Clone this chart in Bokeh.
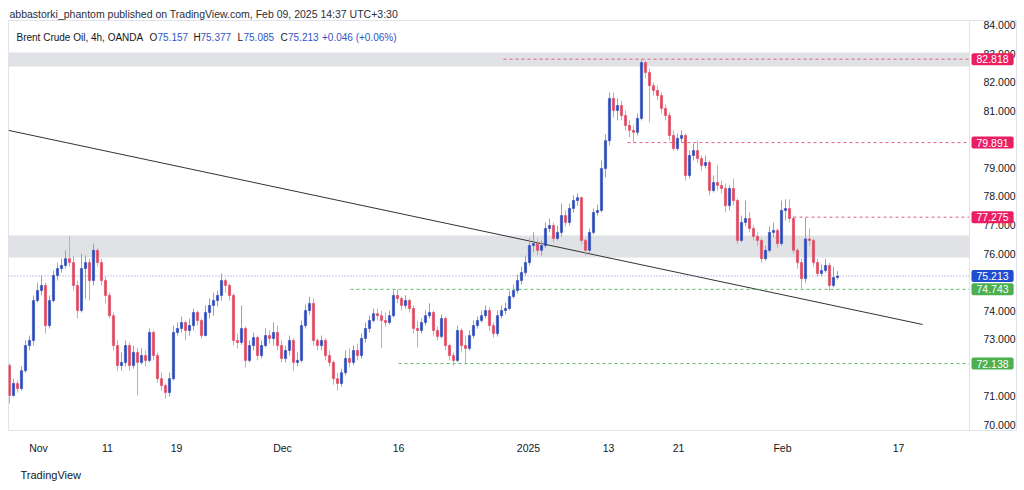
from bokeh.plotting import figure
from bokeh.models import (Range1d, FixedTicker, PrintfTickFormatter, BoxAnnotation,
                          Label, Title, Span, ColumnDataSource)
from bokeh.embed import file_html
from bokeh.resources import INLINE

# ---------------- data (Brent Crude Oil, 4h bars) ----------------
opens = [
    72.07, 71.02, 71.44, 71.26, 71.89, 72.77, 72.95, 74.35, 74.70, 74.88,
    73.47, 74.35, 75.23, 75.47, 75.58, 75.82, 75.68, 74.88, 74.00, 75.47,
    75.68, 75.05, 76.11, 75.68, 75.05, 74.53, 73.82, 72.77, 72.07, 72.18,
    72.77, 72.07, 72.53, 72.18, 72.42, 72.25, 73.23, 72.42, 71.61, 71.37,
    71.12, 71.61, 73.23, 73.37, 73.58, 73.30, 73.47, 73.93, 73.65, 73.12,
    73.93, 74.18, 74.35, 74.53, 75.05, 74.88, 74.53, 72.95, 72.88, 73.37,
    72.25, 72.77, 73.05, 72.42, 72.77, 73.12, 73.02, 73.23, 72.77, 72.32,
    72.60, 72.95, 72.18, 72.25, 73.47, 74.00, 74.25, 72.95, 72.77, 72.95,
    72.42, 72.18, 71.61, 71.44, 71.82, 72.32, 72.18, 72.60, 72.42, 73.02,
    73.37, 73.65, 73.89, 73.82, 73.65, 73.58, 73.82, 74.53, 74.42, 74.18,
    74.35, 74.07, 73.37, 73.30, 73.58, 73.82, 73.93, 73.30, 73.09, 73.72,
    72.77, 72.42, 72.25, 73.30, 72.77, 72.67, 73.12, 73.47, 73.65, 73.82,
    74.00, 73.47, 73.19, 73.82, 74.00, 74.07, 74.49, 74.70, 75.05, 75.33,
    75.68, 76.28, 76.35, 76.11, 76.28, 76.88, 76.98, 76.53, 76.74, 77.33,
    77.09, 77.58, 77.86, 77.96, 76.46, 76.11, 76.74, 77.44, 77.51, 78.98,
    79.96, 81.44, 81.02, 81.19, 80.84, 80.49, 80.32, 80.25, 80.74, 82.70,
    82.35, 81.89, 81.72, 81.54, 81.09, 80.84, 80.14, 79.68, 80.04, 80.14,
    78.74, 79.44, 79.61, 79.33, 79.09, 79.19, 78.21, 78.49, 78.39, 78.28,
    77.68, 78.28, 77.86, 76.46, 77.09, 77.23, 76.88, 76.60, 76.46, 75.82,
    76.11, 76.74, 76.81, 76.35, 77.51, 77.58, 77.23, 76.11, 75.68, 75.12,
    76.51, 76.46, 75.68, 75.30, 75.40, 75.58, 74.88, 75.16,
]
highs = [
    72.14, 71.61, 71.54, 72.04, 72.95, 73.12, 74.53, 74.98, 75.23, 74.98,
    74.53, 75.40, 75.68, 75.82, 76.11, 76.60, 75.93, 75.05, 76.00, 75.93,
    75.82, 76.35, 76.18, 75.82, 75.19, 74.63, 73.93, 72.95, 72.53, 72.95,
    72.88, 72.77, 72.67, 72.67, 72.60, 73.37, 73.30, 72.53, 71.82, 71.44,
    71.82, 73.47, 73.58, 73.79, 73.65, 73.72, 74.07, 74.00, 73.72, 74.18,
    74.42, 74.63, 74.70, 75.30, 75.12, 74.95, 74.60, 73.19, 74.18, 73.44,
    72.95, 73.23, 73.12, 72.95, 73.37, 73.30, 73.58, 73.47, 72.95, 72.77,
    73.12, 73.02, 72.53, 73.65, 74.21, 74.49, 74.42, 73.02, 73.12, 73.02,
    72.60, 72.25, 71.82, 71.96, 72.60, 72.67, 72.77, 72.84, 73.19, 73.58,
    73.82, 74.07, 74.07, 74.00, 73.93, 74.00, 74.70, 74.74, 74.49, 74.53,
    74.42, 74.18, 73.65, 73.72, 74.00, 74.25, 74.00, 73.44, 73.86, 73.79,
    72.84, 72.53, 73.47, 73.37, 73.12, 73.30, 73.65, 73.79, 74.00, 74.18,
    74.11, 73.58, 74.00, 74.18, 74.28, 74.70, 74.91, 75.26, 75.54, 75.93,
    76.53, 76.74, 76.53, 76.46, 77.09, 77.23, 77.09, 76.98, 77.75, 77.51,
    77.75, 78.04, 78.11, 78.00, 76.53, 76.88, 77.58, 77.72, 79.26, 80.18,
    81.65, 81.65, 81.44, 81.37, 81.02, 80.67, 80.49, 80.91, 82.81, 82.77,
    82.49, 82.00, 81.89, 81.65, 81.23, 80.95, 80.32, 80.21, 80.32, 80.21,
    79.61, 79.86, 79.96, 79.44, 79.44, 79.26, 78.74, 79.09, 78.56, 78.46,
    78.39, 78.63, 77.93, 77.33, 77.86, 77.44, 76.98, 76.74, 76.53, 76.28,
    76.95, 77.09, 76.88, 77.86, 77.90, 77.90, 77.33, 76.18, 75.82, 77.26,
    76.88, 76.53, 75.82, 75.61, 75.82, 75.68, 75.54, 75.38,
]
lows = [
    70.74, 70.98, 71.12, 71.19, 71.82, 72.60, 72.77, 74.28, 74.53, 73.19,
    73.37, 74.28, 75.05, 75.33, 75.47, 75.54, 74.70, 73.72, 73.93, 74.42,
    74.35, 74.88, 75.54, 74.88, 74.25, 73.72, 72.60, 71.89, 71.89, 72.04,
    71.89, 71.96, 71.02, 72.11, 72.04, 72.18, 72.25, 71.47, 71.19, 70.91,
    70.98, 71.54, 73.12, 73.23, 72.95, 73.12, 73.30, 73.47, 73.02, 73.09,
    73.72, 73.82, 74.14, 74.35, 74.63, 74.35, 72.77, 72.67, 72.80, 72.00,
    72.18, 72.60, 72.25, 72.32, 72.70, 72.84, 72.77, 72.60, 72.18, 72.18,
    72.42, 71.89, 72.04, 72.18, 73.37, 73.86, 72.77, 72.60, 72.60, 72.25,
    72.04, 71.40, 71.19, 71.33, 71.72, 72.00, 72.07, 72.25, 72.32, 72.88,
    73.23, 73.58, 73.65, 72.67, 73.44, 73.51, 73.75, 74.25, 74.00, 74.07,
    73.93, 73.19, 72.70, 73.19, 73.47, 73.72, 73.12, 72.95, 73.02, 72.60,
    72.25, 72.07, 72.18, 72.53, 72.14, 72.60, 73.02, 73.37, 73.58, 73.72,
    73.30, 73.05, 73.09, 73.72, 73.86, 74.00, 74.42, 74.60, 74.91, 75.23,
    75.58, 76.04, 75.93, 75.93, 76.18, 76.74, 76.39, 76.46, 76.60, 76.95,
    76.98, 77.44, 77.68, 76.32, 75.93, 76.00, 76.67, 77.33, 77.44, 78.67,
    79.79, 80.77, 80.67, 80.67, 80.32, 80.07, 79.89, 80.14, 80.67, 82.14,
    80.60, 81.54, 81.37, 80.91, 80.67, 79.96, 79.61, 79.60, 79.89, 78.56,
    78.63, 79.26, 79.19, 78.91, 78.98, 78.04, 78.14, 78.21, 78.11, 77.44,
    77.51, 77.68, 76.32, 76.39, 76.95, 76.74, 76.46, 76.28, 75.68, 75.75,
    76.04, 76.56, 76.18, 76.28, 77.16, 77.09, 76.00, 75.47, 74.77, 74.98,
    76.28, 75.54, 75.19, 75.19, 75.33, 74.70, 74.81, 75.09,
]
closes = [
    71.02, 71.44, 71.26, 71.89, 72.77, 72.95, 74.35, 74.70, 74.88, 73.47,
    74.35, 75.23, 75.47, 75.58, 75.82, 75.68, 74.88, 74.00, 75.47, 75.68,
    75.05, 76.11, 75.68, 75.05, 74.53, 73.82, 72.77, 72.07, 72.18, 72.77,
    72.07, 72.53, 72.18, 72.42, 72.25, 73.23, 72.42, 71.61, 71.37, 71.12,
    71.61, 73.23, 73.37, 73.58, 73.30, 73.47, 73.93, 73.65, 73.12, 73.93,
    74.18, 74.35, 74.53, 75.05, 74.88, 74.53, 72.95, 72.88, 73.37, 72.25,
    72.77, 73.05, 72.42, 72.77, 73.12, 73.02, 73.23, 72.77, 72.32, 72.60,
    72.95, 72.18, 72.25, 73.47, 74.00, 74.25, 72.95, 72.77, 72.95, 72.42,
    72.18, 71.61, 71.44, 71.82, 72.32, 72.18, 72.60, 72.42, 73.02, 73.37,
    73.65, 73.89, 73.82, 73.65, 73.58, 73.82, 74.53, 74.42, 74.18, 74.35,
    74.07, 73.37, 73.30, 73.58, 73.82, 73.93, 73.30, 73.09, 73.72, 72.77,
    72.42, 72.25, 73.30, 72.77, 72.67, 73.12, 73.47, 73.65, 73.82, 74.00,
    73.47, 73.19, 73.82, 74.00, 74.07, 74.49, 74.70, 75.05, 75.33, 75.68,
    76.28, 76.35, 76.11, 76.28, 76.88, 76.98, 76.53, 76.74, 77.33, 77.09,
    77.58, 77.86, 77.96, 76.46, 76.11, 76.74, 77.44, 77.51, 78.98, 79.96,
    81.44, 81.02, 81.19, 80.84, 80.49, 80.32, 80.25, 80.74, 82.70, 82.35,
    81.89, 81.72, 81.54, 81.09, 80.84, 80.14, 79.68, 80.04, 80.14, 78.74,
    79.44, 79.61, 79.33, 79.09, 79.19, 78.21, 78.49, 78.39, 78.28, 77.68,
    78.28, 77.86, 76.46, 77.09, 77.23, 76.88, 76.60, 76.46, 75.82, 76.11,
    76.74, 76.81, 76.35, 77.51, 77.58, 77.23, 76.11, 75.68, 75.12, 76.51,
    76.46, 75.68, 75.30, 75.40, 75.58, 74.88, 75.16, 75.21,
]

# time axis (bar-index positions of date labels)
x_tick_pos = [7.25, 24.5, 41.75, 68.25, 97.25, 129.75, 149.75, 167.25, 193.25, 222.25]
x_tick_labels = ["Nov", "11", "19", "Dec", "16", "2025", "13", "21", "Feb", "17"]
# price axis ticks visible (others hidden behind price tags)
y_ticks = [70, 71, 73, 74, 76, 77, 78, 79, 81, 82, 83, 84]

# shaded zones (bottom, top)
zone_bottoms = [82.56, 75.86]
zone_tops = [83.05, 76.63]

# horizontal levels and where they start (bar index)
level_prices = [82.818, 79.891, 77.275, 74.743, 72.138]
level_starts = [123.5, 154.5, 196.0, 85.25, 97.25]
level_kinds = ["res", "res", "res", "sup", "sup"]

# trend line
trend_x = [-0.25, 228.25]
trend_y = [80.32, 73.51]

last_price = 75.213
tag_prices = [82.818, 79.891, 77.275, 75.213, 74.743, 72.138]
tag_kinds = ["res", "res", "res", "last", "sup", "sup"]

legend_title = "Brent Crude Oil, 4h, OANDA"
ohlc_names = ["O", "H", "L", "C"]
ohlc_values = ["75.157", "75.377", "75.085", "75.213"]
change_text = "+0.046 (+0.06%)"
header_text = "abbastorki_phantom published on TradingView.com, Feb 09, 2025 14:37 UTC+3:30"

# ---------------- styling / layout ----------------
FONT = "Liberation Sans"
TXT = "#131722"
UP, DOWN = "#2a48bb", "#e0455c"
UP_WICK, DOWN_WICK = "#8ea0d8", "#eb9aa8"
TAG_COL = {"res": "#e91e63", "sup": "#4caf50", "last": "#1f4fd0"}
LINE_COL = {"res": "#e0607e", "sup": "#5cb860"}
X_MIN, X_MAX = -0.25, 251.75      # frame covers chart + price-scale column
PANE_END = 240.0                   # x where the price scale column starts
TAG_X = 240.5

p = figure(frame_width=1008, frame_height=410,
           x_range=Range1d(X_MIN, X_MAX), y_range=Range1d(69.79, 84.175),
           y_axis_location="right", output_backend="svg", toolbar_location=None,
           min_border_left=8, min_border_right=0, min_border_top=20, min_border_bottom=52,
           background_fill_color="white", border_fill_color="white")

p.title.text = header_text
p.title.text_font = FONT
p.title.text_font_size = "10.5px"
p.title.text_font_style = "normal"
p.title.text_color = "#2a2e39"
p.title.align = "left"
p.title.standoff = 2
p.title.offset = 1

p.grid.visible = False
p.outline_line_color = "#e0e3eb"

# time axis
xa = p.xaxis[0]
xa.ticker = FixedTicker(ticks=x_tick_pos)
xa.major_label_overrides = {k: v for k, v in zip(x_tick_pos, x_tick_labels)}
xa.axis_line_color = None
xa.major_tick_line_color = None
xa.minor_tick_line_color = None
xa.major_label_standoff = 5
xa.major_label_text_font = FONT
xa.major_label_text_font_size = "10.5px"
xa.major_label_text_color = TXT

# price axis: labels drawn back inside the price-scale column
ya = p.yaxis[0]
ya.ticker = FixedTicker(ticks=y_ticks)
ya.formatter = PrintfTickFormatter(format="%.3f")
ya.axis_line_color = None
ya.major_tick_line_color = None
ya.minor_tick_line_color = None
ya.major_label_standoff = -39
ya.major_label_text_font = FONT
ya.major_label_text_font_size = "10.5px"
ya.major_label_text_color = TXT

# separator between chart pane and price scale
p.add_layout(Span(location=PANE_END, dimension="height", line_color="#e0e3eb", line_width=1))

# zones
for b, t in zip(zone_bottoms, zone_tops):
    p.add_layout(BoxAnnotation(bottom=b, top=t, left=X_MIN, right=PANE_END,
                               fill_color="#e1e2e5", fill_alpha=1.0,
                               line_alpha=0, level="underlay"))

# trend line
p.line(trend_x, trend_y, line_color="#333333", line_width=1)

# level lines
for price, start, kind in zip(level_prices, level_starts, level_kinds):
    p.segment(x0=[start], y0=[price], x1=[PANE_END], y1=[price],
              line_color=LINE_COL[kind], line_dash="3 3", line_width=1)

# last price line
p.segment(x0=[X_MIN], y0=[last_price], x1=[PANE_END], y1=[last_price],
          line_color="#8793bd", line_dash="1 2", line_width=1)

# candles
idx = list(range(len(closes)))
up = [c >= o for o, c in zip(opens, closes)]
src = ColumnDataSource(dict(
    x=idx, o=opens, h=highs, l=lows, c=closes,
    top=[max(o, c) for o, c in zip(opens, closes)],
    bot=[min(o, c) for o, c in zip(opens, closes)],
    col=[UP if u else DOWN for u in up],
    wick=[UP_WICK if u else DOWN_WICK for u in up],
))
p.segment(x0="x", y0="h", x1="x", y1="l", line_color="wick", line_width=1, source=src)
p.vbar(x="x", width=0.55, top="top", bottom="bot", fill_color="col", line_color="col",
       line_width=0.6, source=src)

# price tags in the price-scale column
for price, kind in zip(tag_prices, tag_kinds):
    p.add_layout(Label(x=TAG_X, y=price, x_units="data", y_units="data",
                       text="%.3f" % price, text_font=FONT, text_font_size="10.5px",
                       text_color="white", text_baseline="middle", text_align="left",
                       background_fill_color=TAG_COL[kind], padding=(5, 2),
                       border_radius=2))

# legend line inside chart (screen x relative to frame left)
LEG_Y = 83.58
LEG_FS = "10px"
p.add_layout(Label(x=8, y=LEG_Y, x_units="screen", text=legend_title, text_font=FONT,
                   text_font_size=LEG_FS, text_color=TXT, text_baseline="middle"))
name_x = [141, 185, 229, 272]
val_x = [149, 192, 235, 279.5]
for n, v, nx, vx in zip(ohlc_names, ohlc_values, name_x, val_x):
    p.add_layout(Label(x=nx, y=LEG_Y, x_units="screen", text=n, text_font=FONT,
                       text_font_size=LEG_FS, text_color=TXT, text_baseline="middle"))
    p.add_layout(Label(x=vx, y=LEG_Y, x_units="screen", text=v, text_font=FONT,
                       text_font_size=LEG_FS, text_color="#2f55c8", text_baseline="middle"))
p.add_layout(Label(x=313.5, y=LEG_Y, x_units="screen", text=change_text, text_font=FONT,
                   text_font_size=LEG_FS, text_color="#2f55c8", text_baseline="middle"))

# footer
p.add_layout(Title(text="TradingView", align="left", offset=12, standoff=20,
                   text_font=FONT, text_font_size="11px", text_font_style="normal",
                   text_color=TXT), "below")

open("out.html", "w").write(file_html(p, INLINE))
